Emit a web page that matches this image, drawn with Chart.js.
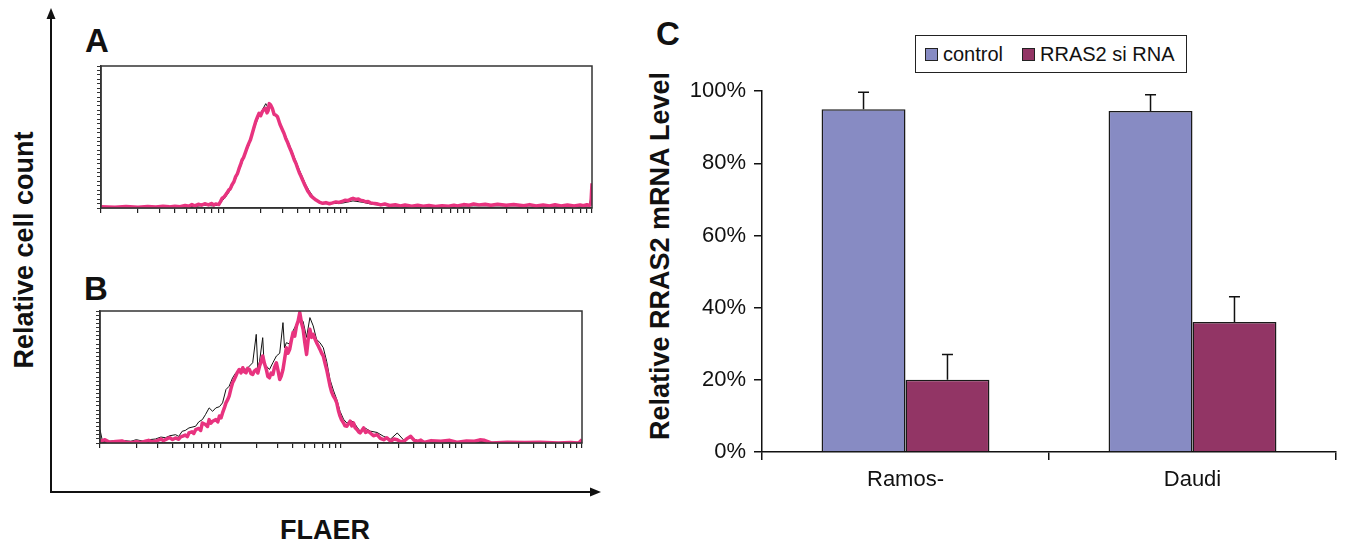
<!DOCTYPE html>
<html>
<head>
<meta charset="utf-8">
<title>FLAER histograms and RRAS2 knockdown</title>
<script src="https://cdn.jsdelivr.net/npm/chart.js@4.4.1/dist/chart.umd.min.js"></script>
<style>
  html, body { margin: 0; padding: 0; background: #fff; }
  body { font-family: "Liberation Sans", Arial, sans-serif; color: #111; }
  .fig { position: relative; width: 1346px; height: 545px; overflow: hidden; }
  .fig canvas { position: absolute; }
  .lbl { position: absolute; font-weight: bold; white-space: nowrap; transform: translate(-50%, -50%); line-height: 1; }
  .panel { font-size: 33px; }
  .axis-t { font-size: 27px; }
  .rot { transform: translate(-50%, -50%) rotate(-90deg); }
  .legend {
    position: absolute; left: 915px; top: 35px; width: 272px; height: 38px;
    box-sizing: border-box; border: 1.5px solid #222; background: #fff;
    display: flex; align-items: center; padding-left: 9px; font-size: 20px; white-space: nowrap;
  }
  .legend .item { display: flex; align-items: center; margin-right: 19px; }
  .legend .sw { width: 11px; height: 11px; border: 1.5px solid #222; margin-right: 5px; }
</style>
</head>
<body>
<div class="fig">
  <svg width="1346" height="545" style="position:absolute;left:0;top:0">
    <line x1="51" y1="492" x2="51" y2="17" stroke="#111" stroke-width="2"/>
    <polygon points="51,8 46.5,19 55.5,19" fill="#111"/>
    <line x1="50" y1="492" x2="592" y2="492" stroke="#111" stroke-width="2"/>
    <polygon points="601,492 590,487.5 590,496.5" fill="#111"/>
  </svg>

  <div class="lbl axis-t rot" style="left:24px;top:250px">Relative cell count</div>
  <div class="lbl axis-t" style="left:325px;top:530px">FLAER</div>
  <div class="lbl axis-t rot" style="left:660px;top:256px">Relative RRAS2 mRNA Level</div>
  <div class="lbl panel" style="left:97px;top:40px">A</div>
  <div class="lbl panel" style="left:96px;top:288px">B</div>
  <div class="lbl panel" style="left:668px;top:33px">C</div>

  <canvas id="histA" width="510" height="154" style="left:90px;top:60px"></canvas>
  <canvas id="histB" width="502" height="144" style="left:89px;top:305px"></canvas>
  <canvas id="barC" width="706" height="438" style="left:640px;top:70px"></canvas>
  <div class="legend" id="legendC"></div>
</div>

<script>
  // ---- Panel A: FLAER histogram, [fluorescence, relative count %] ----
  const histAPink = [
    [1.0,0.9],[1.3,0.5],[1.6,1.0],[2.0,0.6],[2.4,1.1],[2.8,0.7],[3.2,1.2],[3.6,0.8],
    [4.0,1.3],[4.4,0.9],[4.85,1.8],[5.2,1.2],[5.5,2.4],[5.8,1.5],[6.2,2.6],[6.6,2.0],
    [7.0,3.0],[7.5,2.2],[8.0,3.2],[8.3,2.0],[8.6,2.9],[9.1,2.4],[9.4,4.5],[9.7,6.8],
    [10.0,7.5],[10.3,9.0],[10.6,10.5],[11.0,12.7],[11.3,13.5],[11.7,16.5],[12.1,18.5],
    [12.5,22.1],[12.9,24.0],[13.3,27.5],[13.7,30.5],[14.1,33.8],[14.5,35.5],[15.0,39.0],
    [15.5,42.5],[16.0,45.5],[16.5,48.0],[17.0,52.0],[17.6,56.5],[18.2,60.8],[18.8,64.0],
    [19.4,66.7],[20.0,65.0],[20.6,67.8],[21.3,69.5],[22.0,70.2],[22.5,67.0],[23.0,68.5],
    [23.5,73.5],[24.1,72.5],[24.9,70.0],[25.7,66.0],[26.5,65.5],[27.4,64.3],[28.7,59.0],
    [30.1,54.9],[31.0,52.5],[32.0,49.0],[33.0,46.5],[34.1,43.2],[35.2,40.5],[36.3,37.5],
    [37.5,34.0],[38.7,31.5],[40.0,28.0],[41.2,25.0],[42.5,22.5],[43.9,19.7],[45.3,17.0],
    [46.8,14.5],[48.3,12.0],[49.8,10.3],[51.4,8.5],[53.0,7.5],[56.5,5.6],[60.0,4.2],
    [64.0,3.3],[68,3.8],[72.6,3.0],[77,3.6],[82,4.3],[87,3.9],[93.3,4.8],[98,5.5],
    [103,5.2],[108,6.2],[113,6.8],[119,6.0],[125,6.3],[130,5.4],[136,5.2],[143,4.4],
    [150,4.5],[157,3.6],[164,3.3],[176,3.0],[190,2.2],[205,2.8],[225,1.8],[250,2.3],
    [275,1.5],[300,2.1],[340,1.3],[380,1.9],[422,1.2],[470,1.8],[530,1.1],[600,1.6],
    [680,1.2],[750,2.0],[800,1.4],[900,2.4],[1000,2.0],[1085,2.8],[1200,2.2],[1350,2.7],
    [1500,2.0],[1700,2.6],[2000,1.9],[2300,2.5],[2786,1.6],[3100,2.4],[3500,1.4],
    [4000,2.2],[4500,1.5],[5000,2.3],[5600,1.5],[6300,2.1],[7161,1.4],[8000,2.2],
    [8500,1.6],[9100,2.3],[9510,1.8],[9800,3.0],[10000,17.4]
  ];
  const histABlack = [
    [1.0,0.5],[2.0,0.6],[3.0,0.8],[4.0,0.6],[5.0,1.0],[6.0,1.2],[7.0,2.0],[8.0,1.5],
    [9.1,2.0],[9.7,5.0],[10.3,7.5],[11.0,11.0],[11.7,15.0],[12.5,20.5],[13.3,26.0],
    [14.1,32.0],[15.0,38.0],[16.0,44.0],[17.0,51.0],[18.2,59.0],[19.4,65.0],[20.6,69.0],
    [22.0,73.5],[23.0,70.5],[24.1,72.0],[25.7,67.0],[27.4,63.0],[30.1,55.5],[32.0,50.5],
    [34.1,45.0],[36.3,39.0],[38.7,33.0],[41.2,27.0],[43.9,21.5],[46.8,16.0],[49.8,12.0],
    [53.0,8.5],[56.5,6.0],[60.0,4.5],[64.0,3.0],[72.6,3.0],[93.3,3.5],[113,5.0],[136,4.0],
    [164,2.5],[225,1.5],[422,1.0],[1085,1.5],[2786,1.5],[7161,1.2],[9510,1.5],[10000,12.0]
  ];

  // ---- Panel B ----
  const histBPink = [
    [1.0,1.3],[1.1,2.5],[1.2,0.5],[1.35,1.2],[1.52,1.5],[1.65,0.4],[1.8,0.3],[2.0,1.0],
    [2.2,0.4],[2.38,1.3],[2.53,2.0],[2.7,0.8],[2.88,1.3],[3.05,2.2],[3.2,3.0],[3.35,1.8],
    [3.49,2.5],[3.65,3.5],[3.8,4.0],[4.0,2.6],[4.24,3.8],[4.5,2.8],[4.65,4.5],[4.81,5.1],
    [5.1,6.0],[5.3,4.8],[5.47,7.6],[5.8,8.5],[6.0,7.2],[6.22,10.1],[6.6,11.0],[6.85,9.5],
    [7.07,15.2],[7.5,14.0],[7.8,12.5],[8.05,17.7],[8.3,15.0],[8.6,16.5],[9.15,17.7],
    [9.5,16.0],[9.8,20.5],[10.1,19.0],[10.4,22.8],[10.8,27.0],[11.1,30.4],[11.5,33.0],
    [11.8,35.5],[12.2,41.0],[12.6,45.6],[13.0,48.0],[13.4,50.7],[13.8,53.5],[14.3,55.7],
    [14.8,53.0],[15.3,57.0],[15.8,54.0],[16.3,53.2],[16.8,56.5],[17.4,55.7],[17.9,52.5],
    [18.5,51.9],[19.1,54.5],[19.8,55.7],[20.4,53.0],[21.1,58.3],[21.7,61.5],[22.4,65.9],
    [23.2,60.0],[24.0,55.7],[24.7,50.5],[25.5,49.4],[26.3,53.0],[27.2,51.9],[28.1,57.5],
    [29.1,60.8],[30.0,55.0],[31.0,48.1],[32.0,51.0],[33.0,55.7],[34.1,64.0],[35.2,72.2],
    [36.3,68.0],[37.5,70.9],[38.7,77.5],[40.0,83.6],[41.3,81.0],[42.7,88.7],[44.1,92.5],
    [45.5,98.8],[47.0,91.0],[48.5,86.1],[50.1,76.0],[51.8,67.1],[53.5,79.0],[55.2,86.1],
    [57.0,80.0],[58.8,82.3],[60.7,79.0],[62.7,76.0],[64.8,73.5],[66.9,70.9],[69.1,68.0],
    [71.3,65.9],[73.6,60.5],[76.0,55.7],[78.5,49.5],[81.1,43.1],[83.7,38.5],[86.4,35.5],
    [89.3,33.5],[92.2,30.4],[95.2,24.5],[98.2,20.3],[101,17.5],[105,15.2],[108,13.0],
    [112,12.7],[115,14.5],[119,16.5],[123,13.0],[127,15.2],[131,11.5],[136,10.1],
    [140,8.5],[144,7.6],[149,9.5],[154,11.4],[160,8.0],[167,9.0],[175,7.6],[186,5.5],
    [199,6.3],[212,3.5],[226,2.5],[240,4.0],[258,1.3],[275,3.0],[293,2.5],[313,1.0],
    [333,1.3],[355,3.5],[379,5.1],[405,2.0],[431,1.3],[460,2.2],[489,0.5],[560,1.8],
    [674,1.3],[800,2.0],[929,0.5],[1100,1.5],[1280,1.3],[1420,2.4],[1552,2.0],[1766,0],
    [2400,0.5],[3353,0.3],[4500,0.6],[6368,0],[8000,0.4],[9370,0],[10000,2.5]
  ];
  const histBBlack = [
    [1.0,10.1],[1.05,1.0],[1.52,2.0],[1.8,1.3],[2.0,2.5],[2.38,1.0],[2.53,2.5],[2.88,3.0],
    [3.2,4.5],[3.49,4.0],[3.8,5.5],[4.24,6.3],[4.5,5.0],[4.81,8.9],[5.1,9.5],[5.47,11.4],
    [5.8,12.0],[6.22,12.7],[6.6,16.0],[7.07,17.7],[7.5,21.5],[8.05,26.6],[8.6,24.0],
    [9.15,26.6],[9.8,27.5],[10.4,30.4],[11.1,40.5],[11.8,43.0],[12.6,49.4],[13.4,53.2],
    [14.3,55.0],[15.3,57.0],[16.3,55.7],[17.4,58.3],[18.5,60.8],[19.8,82.3],[20.4,57.0],
    [21.1,62.0],[22.4,79.8],[23.0,60.0],[24.0,58.3],[25.5,55.7],[27.2,60.8],[29.1,65.9],
    [31.0,68.0],[33.0,91.2],[34.0,72.0],[35.2,76.0],[37.5,75.0],[40.0,85.0],[42.7,90.0],
    [45.5,95.0],[48.5,92.0],[51.8,80.0],[55.2,95.0],[58.8,88.7],[62.7,78.5],[66.9,76.0],
    [71.3,72.2],[76.0,62.0],[81.1,48.0],[86.4,40.0],[92.2,33.0],[98.2,24.0],[105,18.0],
    [112,15.0],[119,17.0],[127,16.0],[136,12.0],[144,9.0],[154,12.0],[175,9.0],[199,8.0],
    [226,5.0],[258,3.0],[293,7.6],[333,2.0],[379,4.0],[431,2.0],[489,1.0],[674,1.5],
    [929,1.0],[1280,1.5],[1552,1.0],[1766,0.5],[3353,0],[6368,0.3],[9370,0.2],[10000,2.0]
  ];

  // ---- Panel C: relative RRAS2 mRNA level (%) ----
  const categories    = ['Ramos-', 'Daudi'];
  const controlValues = [95, 94.5];
  const controlErrors = [4.7, 4.5];
  const sirnaValues   = [20, 36];
  const sirnaErrors   = [7, 7];
  const yTickValues   = [0, 20, 40, 60, 80, 100];

  const FONT = '"Liberation Sans", Arial, sans-serif';
  const PINK = '#e8337f';
  const INK  = '#111';

  // ---- Histogram helpers ----
  const frame = {
    id: 'frame',
    afterDraw(chart) {
      const { ctx, chartArea: a } = chart;
      ctx.save();
      ctx.strokeStyle = '#333';
      ctx.lineWidth = 1.5;
      ctx.strokeRect(a.left, a.top, a.right - a.left, a.bottom - a.top);
      ctx.restore();
    }
  };

  function decadeTicks(scale) {
    const t = [];
    for (let e = 0; e < 4; e++) {
      for (let m = 1; m < 10; m++) t.push({ value: m * Math.pow(10, e) });
    }
    t.push({ value: 10000 });
    scale.ticks = t;
  }

  function countTicks(scale) {
    const t = [];
    for (let i = 0; i <= 32; i++) t.push({ value: i * 100 / 32 });
    scale.ticks = t;
  }

  const toXY = arr => arr.map(p => ({ x: p[0], y: p[1] }));

  function histChart(id, pink, black, pad) {
    return new Chart(document.getElementById(id), {
      type: 'line',
      data: {
        datasets: [
          { label: 'FLAER', data: toXY(pink), borderColor: PINK, borderWidth: 3.5,
            pointRadius: 0, tension: 0, borderJoinStyle: 'round' },
          { label: 'control', data: toXY(black), borderColor: INK, borderWidth: 1,
            pointRadius: 0, tension: 0 }
        ]
      },
      options: {
        responsive: false,
        animation: false,
        layout: { padding: pad },
        plugins: { legend: { display: false }, tooltip: { enabled: false } },
        scales: {
          x: {
            type: 'logarithmic', min: 1, max: 10000,
            afterBuildTicks: decadeTicks,
            ticks: { display: false },
            grid: { drawOnChartArea: false, tickLength: 5, color: '#222', lineWidth: 1.2 },
            border: { color: '#333', width: 1.5 },
            afterFit: s => { s.height = 6; }
          },
          y: {
            min: 0, max: 100,
            afterBuildTicks: countTicks,
            ticks: { display: false },
            grid: { drawOnChartArea: false, tickLength: 4, color: '#333', lineWidth: 1 },
            border: { color: '#333', width: 1.5 },
            afterFit: s => { s.width = 6; }
          }
        }
      },
      plugins: [frame]
    });
  }

  histChart('histA', histAPink, histABlack, { left: 5, top: 6, right: 8, bottom: 0 });
  histChart('histB', histBPink, histBBlack, { left: 5, top: 6, right: 9, bottom: 0 });

  // ---- Error bars (upper only) ----
  const errorBars = {
    id: 'errorBars',
    afterDatasetsDraw(chart) {
      const { ctx } = chart;
      const yScale = chart.scales.y;
      ctx.save();
      ctx.strokeStyle = INK;
      ctx.lineWidth = 1.5;
      chart.data.datasets.forEach((ds, i) => {
        chart.getDatasetMeta(i).data.forEach((bar, j) => {
          const top = yScale.getPixelForValue(ds.data[j] + ds.errors[j]);
          ctx.beginPath();
          ctx.moveTo(bar.x, bar.y);
          ctx.lineTo(bar.x, top);
          ctx.moveTo(bar.x - 5.5, top);
          ctx.lineTo(bar.x + 5.5, top);
          ctx.stroke();
        });
      });
      ctx.restore();
    }
  };

  const barChart = new Chart(document.getElementById('barC'), {
    type: 'bar',
    data: {
      labels: categories,
      datasets: [
        { label: 'control', data: controlValues, errors: controlErrors,
          backgroundColor: '#878bc3', borderColor: '#1a1a1a', borderWidth: 1.5,
          barPercentage: 1, categoryPercentage: 0.585 },
        { label: 'RRAS2 si RNA', data: sirnaValues, errors: sirnaErrors,
          backgroundColor: '#923565', borderColor: '#1a1a1a', borderWidth: 1.5,
          barPercentage: 1, categoryPercentage: 0.585 }
      ]
    },
    options: {
      responsive: false,
      animation: false,
      layout: { padding: { left: 0, top: 13, right: 10, bottom: 0 } },
      plugins: { legend: { display: false }, tooltip: { enabled: false } },
      scales: {
        x: {
          offset: true,
          grid: { offset: true, drawOnChartArea: false, tickLength: 8, color: INK, lineWidth: 1.5 },
          border: { color: INK, width: 1.5 },
          ticks: { color: INK, font: { family: FONT, size: 22 }, padding: 7 },
          afterFit: s => { s.height = 56; }
        },
        y: {
          min: 0, max: 100,
          afterBuildTicks: s => { s.ticks = yTickValues.map(v => ({ value: v })); },
          ticks: { color: INK, font: { family: FONT, size: 22 }, padding: 8, callback: v => v + '%' },
          grid: { drawOnChartArea: false, tickLength: 8, color: INK, lineWidth: 1.5 },
          border: { color: INK, width: 1.5 },
          afterFit: s => { s.width = 122; }
        }
      }
    },
    plugins: [errorBars]
  });

  // ---- Boxed legend built from the chart's datasets ----
  const legendEl = document.getElementById('legendC');
  barChart.data.datasets.forEach(ds => {
    const item = document.createElement('span');
    item.className = 'item';
    item.innerHTML = `<span class="sw" style="background:${ds.backgroundColor}"></span><span>${ds.label}</span>`;
    legendEl.appendChild(item);
  });
</script>
</body>
</html>
